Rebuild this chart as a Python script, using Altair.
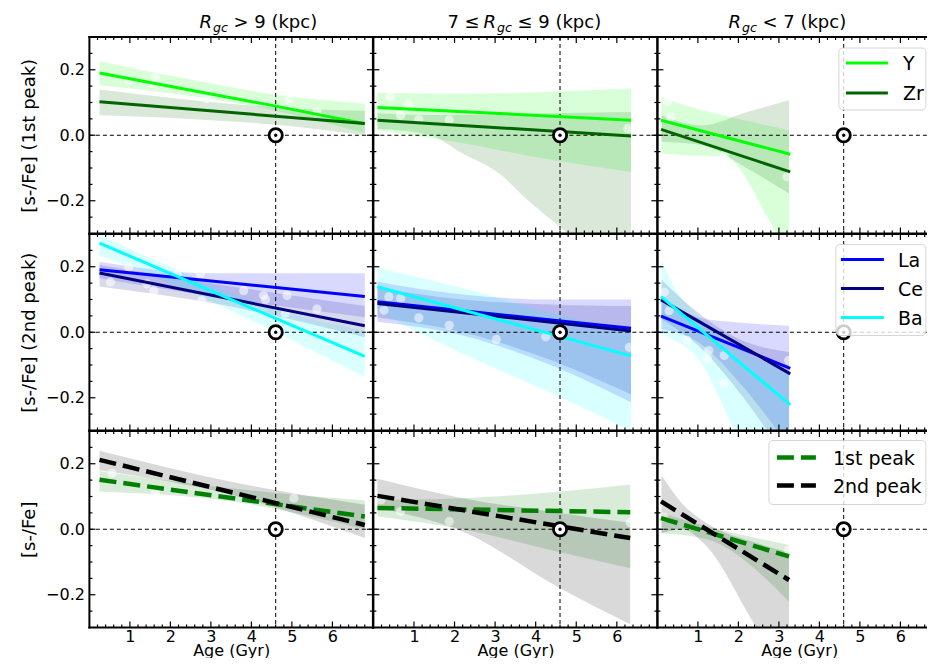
import altair as alt
import pandas as pd

FONT = "DejaVu Sans"

# ---------------- text / ticks ----------------
SUN_AGE = 4.6
SUN_VAL = 0.0
X_TITLE = "Age (Gyr)"
X_DOMAIN = [0, 7]
X_TICK_VALUES = [1, 2, 3, 4, 5, 6]
Y_TICK_VALUES = [-0.2, 0.0, 0.2]
Y_DOMAIN = [-0.3, 0.3]
ROW_TITLES = ["[s-/Fe] (1st peak)", "[s-/Fe] (2nd peak)", "[s-/Fe]"]
COL_TITLES = [["", "R", "gc", "> 9 (kpc)"],
              ["7 ≤", "R", "gc", "≤ 9 (kpc)"],
              ["", "R", "gc", "< 7 (kpc)"]]
ROW_ELEMENTS = [["Y", "Zr"], ["La", "Ce", "Ba"], ["1st peak", "2nd peak"]]
COLORS = {"Y": "#00ff00", "Zr": "#006400", "La": "#0000ff", "Ce": "#000080",
          "Ba": "#00ffff", "1st peak": "#008000", "2nd peak": "#000000"}
DASHED = {"1st peak", "2nd peak"}

# ---------------- trend lines: (age, value) ----------------
R1C1_Y_LINE = [(0.25, 0.190), (4.6, 0.089), (6.8, 0.035)]
R1C1_ZR_LINE = [(0.25, 0.102), (6.8, 0.036)]
R1C2_Y_LINE = [(0.1, 0.085), (6.35, 0.046)]
R1C2_ZR_LINE = [(0.1, 0.046), (6.35, -0.002)]
R1C3_Y_LINE = [(0.09, 0.046), (3.28, -0.058)]
R1C3_ZR_LINE = [(0.09, 0.018), (3.28, -0.112)]

R2C1_LA_LINE = [(0.25, 0.191), (6.8, 0.109)]
R2C1_CE_LINE = [(0.25, 0.181), (6.8, 0.020)]
R2C1_BA_LINE = [(0.25, 0.272), (6.8, -0.074)]
R2C2_LA_LINE = [(0.1, 0.093), (6.35, 0.012)]
R2C2_CE_LINE = [(0.1, 0.088), (6.35, 0.004)]
R2C2_BA_LINE = [(0.1, 0.139), (6.35, -0.072)]
R2C3_LA_LINE = [(0.09, 0.049), (3.28, -0.110)]
R2C3_CE_LINE = [(0.09, 0.099), (3.28, -0.127)]
R2C3_BA_LINE = [(0.09, 0.109), (3.28, -0.222)]

R3C1_P1_LINE = [(0.25, 0.151), (6.8, 0.039)]
R3C1_P2_LINE = [(0.25, 0.212), (6.8, 0.013)]
R3C2_P1_LINE = [(0.1, 0.065), (6.33, 0.052)]
R3C2_P2_LINE = [(0.1, 0.102), (6.33, -0.027)]
R3C3_P1_LINE = [(0.09, 0.034), (3.25, -0.083)]
R3C3_P2_LINE = [(0.09, 0.085), (3.25, -0.155)]

# ---------------- confidence bands: (age, low, high) ----------------
R1C1_Y_BAND = [(0.25, 0.153, 0.226), (2.5, 0.120, 0.170), (4.6, 0.075, 0.124), (6.8, 0.006, 0.097)]
R1C1_ZR_BAND = [(0.25, 0.061, 0.140), (2.5, 0.050, 0.108), (4.6, 0.032, 0.085), (6.8, 0.000, 0.075)]
R1C2_Y_BAND = [(0.1, 0.015, 0.130), (2.0, -0.020, 0.127), (4.37, -0.075, 0.133), (6.35, -0.112, 0.143)]
R1C2_ZR_BAND = [(0.1, 0.020, 0.067), (1.4, 0.000, 0.062), (2.2, -0.056, 0.062), (3.1, -0.117, 0.064),
                (3.8, -0.198, 0.066), (4.7, -0.290, 0.068), (6.35, -0.450, 0.071)]
R1C3_Y_BAND = [(0.1, -0.056, 0.117), (0.6, -0.060, 0.095), (1.65, -0.066, 0.060), (2.9, -0.290, 0.025),
               (3.25, -0.360, 0.015)]
R1C3_ZR_BAND = [(0.1, -0.020, 0.060), (1.1, -0.030, 0.030), (2.2, -0.100, 0.070), (3.25, -0.178, 0.107)]

R2C1_LA_BAND = [(0.25, 0.165, 0.215), (3.0, 0.110, 0.180), (6.8, 0.046, 0.180)]
R2C1_CE_BAND = [(0.25, 0.140, 0.205), (3.0, 0.090, 0.150), (6.8, -0.015, 0.080)]
R2C1_BA_BAND = [(0.25, 0.235, 0.297), (2.0, 0.150, 0.200), (4.6, 0.000, 0.070), (6.8, -0.137, 0.005)]
R2C2_LA_BAND = [(0.1, 0.032, 0.154), (2.2, -0.010, 0.115), (4.37, -0.100, 0.100), (6.35, -0.214, 0.100)]
R2C2_CE_BAND = [(0.1, 0.045, 0.135), (2.2, 0.000, 0.100), (4.37, -0.085, 0.085), (6.35, -0.190, 0.080)]
R2C2_BA_BAND = [(0.1, 0.063, 0.197), (2.2, -0.066, 0.135), (4.37, -0.185, 0.060), (6.35, -0.300, 0.005)]
R2C3_LA_BAND = [(0.1, 0.010, 0.090), (1.0, -0.030, 0.045), (2.0, -0.150, 0.030), (3.25, -0.350, 0.020)]
R2C3_CE_BAND = [(0.1, 0.040, 0.160), (1.0, -0.040, 0.060), (2.0, -0.180, -0.020), (3.25, -0.400, -0.060)]
R2C3_BA_BAND = [(0.1, -0.005, 0.220), (0.5, -0.030, 0.120), (1.0, -0.080, 0.050), (2.0, -0.320, -0.050),
                (3.25, -0.550, -0.120)]

R3C1_P1_BAND = [(0.25, 0.115, 0.178), (3.5, 0.085, 0.125), (6.8, 0.000, 0.088)]
R3C1_P2_BAND = [(0.25, 0.180, 0.240), (3.5, 0.105, 0.145), (6.8, -0.027, 0.075)]
R3C2_P1_BAND = [(0.1, 0.040, 0.090), (2.2, 0.000, 0.095), (4.6, -0.070, 0.115), (6.33, -0.119, 0.137)]
R3C2_P2_BAND = [(0.1, 0.065, 0.154), (2.2, -0.007, 0.095), (4.6, -0.180, 0.050), (6.33, -0.290, 0.020)]
R3C3_P1_BAND = [(0.1, -0.012, 0.050), (1.2, -0.030, 0.010), (3.25, -0.221, -0.048)]
R3C3_P2_BAND = [(0.1, -0.012, 0.166), (0.6, 0.000, 0.080), (1.2, -0.050, 0.020), (2.4, -0.290, -0.040),
                (3.25, -0.450, -0.070)]

# ---------------- faint individual stars: (age, value) ----------------
R1C1_PTS = [(0.97, 0.168), (1.63, 0.178), (1.60, 0.153), (2.90, 0.112), (4.92, 0.107), (5.62, 0.071)]
R1C2_PTS = [(0.42, 0.117), (0.87, 0.095), (0.67, 0.061), (1.12, 0.048), (1.87, 0.046), (6.27, 0.020)]
R1C3_PTS = [(0.25, 0.102), (0.33, 0.056), (1.65, -0.061), (3.20, -0.127)]
R2C1_PTS = [(0.52, 0.153), (0.97, 0.198), (1.42, 0.148), (1.59, 0.127), (2.17, 0.178), (2.74, 0.178),
            (2.78, 0.097), (3.81, 0.127), (4.30, 0.112), (4.35, 0.100), (4.84, 0.058), (4.88, 0.112),
            (5.62, 0.071)]
R2C2_PTS = [(0.26, 0.067), (0.38, 0.108), (0.67, 0.103), (1.12, 0.044), (1.87, 0.021), (3.03, -0.022),
            (4.25, -0.014), (6.31, -0.046)]
R2C3_PTS = [(0.17, 0.122), (0.29, 0.066), (0.74, -0.025), (1.24, -0.081), (1.27, -0.056), (1.65, -0.071),
            (1.65, -0.156), (3.24, -0.086)]
R3C1_PTS = [(0.56, 0.171), (1.63, 0.110), (5.05, 0.095)]
R3C2_PTS = [(0.19, 0.090), (0.67, 0.054), (1.87, 0.024), (6.33, 0.020)]
R3C3_PTS = [(0.15, 0.037), (3.24, -0.063)]

LINES = {
    (0, 0): {"Y": R1C1_Y_LINE, "Zr": R1C1_ZR_LINE},
    (0, 1): {"Y": R1C2_Y_LINE, "Zr": R1C2_ZR_LINE},
    (0, 2): {"Y": R1C3_Y_LINE, "Zr": R1C3_ZR_LINE},
    (1, 0): {"La": R2C1_LA_LINE, "Ce": R2C1_CE_LINE, "Ba": R2C1_BA_LINE},
    (1, 1): {"La": R2C2_LA_LINE, "Ce": R2C2_CE_LINE, "Ba": R2C2_BA_LINE},
    (1, 2): {"La": R2C3_LA_LINE, "Ce": R2C3_CE_LINE, "Ba": R2C3_BA_LINE},
    (2, 0): {"1st peak": R3C1_P1_LINE, "2nd peak": R3C1_P2_LINE},
    (2, 1): {"1st peak": R3C2_P1_LINE, "2nd peak": R3C2_P2_LINE},
    (2, 2): {"1st peak": R3C3_P1_LINE, "2nd peak": R3C3_P2_LINE},
}
BANDS = {
    (0, 0): {"Y": R1C1_Y_BAND, "Zr": R1C1_ZR_BAND},
    (0, 1): {"Y": R1C2_Y_BAND, "Zr": R1C2_ZR_BAND},
    (0, 2): {"Y": R1C3_Y_BAND, "Zr": R1C3_ZR_BAND},
    (1, 0): {"La": R2C1_LA_BAND, "Ce": R2C1_CE_BAND, "Ba": R2C1_BA_BAND},
    (1, 1): {"La": R2C2_LA_BAND, "Ce": R2C2_CE_BAND, "Ba": R2C2_BA_BAND},
    (1, 2): {"La": R2C3_LA_BAND, "Ce": R2C3_CE_BAND, "Ba": R2C3_BA_BAND},
    (2, 0): {"1st peak": R3C1_P1_BAND, "2nd peak": R3C1_P2_BAND},
    (2, 1): {"1st peak": R3C2_P1_BAND, "2nd peak": R3C2_P2_BAND},
    (2, 2): {"1st peak": R3C3_P1_BAND, "2nd peak": R3C3_P2_BAND},
}
POINTS = {
    (0, 0): R1C1_PTS, (0, 1): R1C2_PTS, (0, 2): R1C3_PTS,
    (1, 0): R2C1_PTS, (1, 1): R2C2_PTS, (1, 2): R2C3_PTS,
    (2, 0): R3C1_PTS, (2, 1): R3C2_PTS, (2, 2): R3C3_PTS,
}

# ---------------- layout / style ----------------
WIDTHS = [283.5, 284.0, 283.5]   # last panel is cut by the page edge
HEIGHT = 196.5
CANVAS_W, CANVAS_H = 919, 650   # drawing surface (page minus body margins)
ORIGIN_X, ORIGIN_Y = 81.4, 29   # top-left corner of the first panel
BAND_ALPHA = 0.15
MAJOR_LEN, MINOR_LEN = 6, 3
SPINE_W = 2

TITLE_POS = [  # x offsets of: prefix, R, gc, rest
    [0, 110, 123.5, 144],
    [74, 110, 123.5, 144],
    [0, 71, 84.5, 105],
]
TITLE_BASE = -8.7
SUB_BASE = -5.2
LEGEND_BOX = {0: (181.5, 268.5, 11, 73), 1: (178.5, 268.5, 10.5, 101.5), 2: (111.5, 268.5, 9.5, 73.5)}
LEGEND_LINE_X = {0: (188.5, 230.5), 1: (183.5, 226.5), 2: (119.5, 158.5)}
LEGEND_ROW_Y = {0: [26, 56], 1: [25.5, 54.5, 83.5], 2: [26.5, 54.5]}
LEGEND_TEXT_X = {0: 245.5, 1: 240.5, 2: 175.5}

ONE = pd.DataFrame({"k": [0]})


def top_text(text, x, base, size, italic=False):
    kw = dict(text=text, font=FONT, fontSize=size, color="black", align="left", baseline="top")
    if italic:
        kw["fontStyle"] = "italic"
    return (alt.Chart(ONE).mark_text(**kw)
            .encode(x=alt.value(x), y=alt.value(base - round(0.79 * size))))


def panel(r, c):
    W = WIDTHS[c]
    xsc = alt.Scale(domain=X_DOMAIN, nice=False, zero=False)
    ysc = alt.Scale(domain=Y_DOMAIN, nice=False, zero=False)
    if r == 2:
        xax = alt.Axis(values=X_TICK_VALUES, format="d", ticks=False, tickSize=0, domain=False,
                       grid=False, labelFont=FONT, labelFontSize=16, labelColor="black",
                       labelPadding=0.5, labelFlush=False, title=X_TITLE, titleFont=FONT,
                       titleFontSize=16, titleFontWeight="normal", titleColor="black",
                       titlePadding=-1.5)
    else:
        xax = None
    if c == 0:
        yax = alt.Axis(values=Y_TICK_VALUES, format=".1f", ticks=False, tickSize=0, domain=False,
                       grid=False, labelFont=FONT, labelFontSize=16, labelColor="black",
                       labelPadding=5, title=ROW_TITLES[r], titleFont=FONT, titleFontSize=18,
                       titleFontWeight="normal", titleColor="black", titlePadding=7)
    else:
        yax = None

    def X(f):
        return alt.X(f"{f}:Q", scale=xsc, axis=xax)

    def Y(f):
        return alt.Y(f"{f}:Q", scale=ysc, axis=yax)

    layers = []
    # bands
    for name in ROW_ELEMENTS[r]:
        df = pd.DataFrame(BANDS[(r, c)][name], columns=["age", "lo", "hi"])
        layers.append(alt.Chart(df).mark_area(clip=True, color=COLORS[name], opacity=BAND_ALPHA,
                                              interpolate="monotone")
                      .encode(x=X("age"), y=Y("lo"), y2=alt.Y2("hi")))
    # faint stars
    dfp = pd.DataFrame(POINTS[(r, c)], columns=["age", "val"])
    layers.append(alt.Chart(dfp).mark_circle(clip=True, color="white", opacity=0.55, size=85)
                  .encode(x=X("age"), y=Y("val")))
    # reference lines
    layers.append(alt.Chart(pd.DataFrame({"age": [SUN_AGE]}))
                  .mark_rule(color="black", strokeWidth=1, strokeDash=[4, 3])
                  .encode(x=X("age")))
    layers.append(alt.Chart(pd.DataFrame({"val": [SUN_VAL]}))
                  .mark_rule(color="black", strokeWidth=1, strokeDash=[4, 3])
                  .encode(y=Y("val")))
    # trend lines
    for name in ROW_ELEMENTS[r]:
        df = pd.DataFrame(LINES[(r, c)][name], columns=["age", "val"])
        if name in DASHED:
            mk = alt.Chart(df).mark_line(clip=True, color=COLORS[name], strokeWidth=4.5,
                                         strokeDash=[17, 7])
        else:
            mk = alt.Chart(df).mark_line(clip=True, color=COLORS[name], strokeWidth=3)
        layers.append(mk.encode(x=X("age"), y=Y("val")))
    # sun symbol
    dfs = pd.DataFrame({"age": [SUN_AGE], "val": [SUN_VAL]})
    layers.append(alt.Chart(dfs).mark_point(shape="circle", filled=True, fill="white", stroke="black",
                                            strokeWidth=2.8, size=175, opacity=1)
                  .encode(x=X("age"), y=Y("val")))
    layers.append(alt.Chart(dfs).mark_point(shape="circle", filled=True, color="black", size=11,
                                            opacity=1)
                  .encode(x=X("age"), y=Y("val")))
    # legend
    if c == 2:
        bx0, bx1, by0, by1 = LEGEND_BOX[r]
        layers.append(alt.Chart(ONE).mark_rect(fill="white", fillOpacity=0.8, stroke="#cccccc",
                                               strokeOpacity=0.8, strokeWidth=1, cornerRadius=4)
                      .encode(x=alt.value(bx0), x2=alt.value(bx1), y=alt.value(by0), y2=alt.value(by1)))
        lx0, lx1 = LEGEND_LINE_X[r]
        for name, yy in zip(ROW_ELEMENTS[r], LEGEND_ROW_Y[r]):
            if name in DASHED:
                rm = alt.Chart(ONE).mark_rule(color=COLORS[name], strokeWidth=4.5, strokeDash=[17, 7])
            else:
                rm = alt.Chart(ONE).mark_rule(color=COLORS[name], strokeWidth=3)
            layers.append(rm.encode(x=alt.value(lx0), x2=alt.value(lx1), y=alt.value(yy)))
            layers.append(alt.Chart(ONE).mark_text(text=name, font=FONT, fontSize=19, color="black",
                                                   align="left", baseline="middle")
                          .encode(x=alt.value(LEGEND_TEXT_X[r]), y=alt.value(yy + 1)))
    # ticks (inward, all four sides)
    x_minor = [round(0.2 * i, 1) for i in range(1, 35) if (i % 5) != 0]
    y_minor = [round(-0.25 + 0.05 * i, 2) for i in range(11)]
    y_minor = [v for v in y_minor if all(abs(v - m) > 1e-6 for m in Y_TICK_VALUES)]
    for vals, ln in ((X_TICK_VALUES, MAJOR_LEN), (x_minor, MINOR_LEN)):
        dft = pd.DataFrame({"t": vals})
        for y0, y1 in ((0, ln), (HEIGHT, HEIGHT - ln)):
            layers.append(alt.Chart(dft).mark_rule(color="black", strokeWidth=1.2)
                          .encode(x=X("t"), y=alt.value(y0), y2=alt.value(y1)))
    for vals, ln in ((Y_TICK_VALUES, MAJOR_LEN), (y_minor, MINOR_LEN)):
        dft = pd.DataFrame({"t": vals})
        for x0, x1 in ((0, ln), (W, W - ln)):
            layers.append(alt.Chart(dft).mark_rule(color="black", strokeWidth=1.2)
                          .encode(y=Y("t"), x=alt.value(x0), x2=alt.value(x1)))
    # spines
    for x0, x1, y0, y1 in ((0, 0, 0, HEIGHT), (W, W, 0, HEIGHT), (0, W, 0, 0), (0, W, HEIGHT, HEIGHT)):
        layers.append(alt.Chart(ONE).mark_rule(color="black", strokeWidth=SPINE_W, strokeCap="square")
                      .encode(x=alt.value(x0), x2=alt.value(x1), y=alt.value(y0), y2=alt.value(y1)))
    # column titles
    if r == 0:
        pre, rr, gc, rest = COL_TITLES[c]
        px = TITLE_POS[c]
        if pre:
            layers.append(top_text(pre, px[0], TITLE_BASE, 18))
        layers.append(top_text(rr, px[1], TITLE_BASE, 18, italic=True))
        layers.append(top_text(gc, px[2], SUB_BASE, 12.6, italic=True))
        layers.append(top_text(rest, px[3], TITLE_BASE, 18))
    return alt.layer(*layers).properties(width=W, height=HEIGHT)


panels = [panel(r, c) for r in range(3) for c in range(3)]
chart = (alt.concat(*panels, columns=3, spacing=0, bounds="flush")
         .properties(autosize=alt.AutoSizeParams(type="none"),
                     padding={"left": ORIGIN_X, "top": ORIGIN_Y,
                              "right": CANVAS_W - ORIGIN_X, "bottom": CANVAS_H - ORIGIN_Y},
                     background="white")
         .configure(font=FONT)
         .configure_view(strokeWidth=0))

chart.save("out.html", embed_options={"renderer": "svg", "actions": False})
